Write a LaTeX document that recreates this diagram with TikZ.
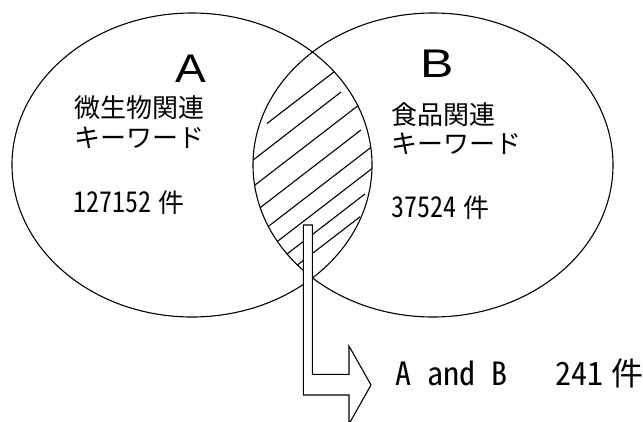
\documentclass[tikz,border=0pt]{standalone}
\usepackage{fontspec}
\usetikzlibrary{shapes.geometric}
\newfontfamily\jp{Noto Sans CJK JP}
\newfontfamily\jph[CharacterWidth=Half]{Noto Sans CJK JP}
\newfontfamily\latinbig{Liberation Sans}
\newcommand\hw{\hspace{0.5em}}
\begin{document}
\begin{tikzpicture}[x=1pt,y=-1pt,line width=1.1pt,
  venn/.style={draw, ellipse, minimum width=360pt, minimum height=304pt, inner sep=0pt},
  lbl/.style={anchor=west, inner sep=0pt, font=\jp\fontsize{26}{30}\selectfont},
  bigletter/.style={inner sep=0pt, font=\latinbig\fontsize{40}{46}\selectfont},
  arrowshape/.style={draw, fill=white, line join=miter}]
\clip (0,0) rectangle (643,421);
% hatching in the lens
\begin{scope}
  \clip (192,165) ellipse [x radius=180, y radius=152];
  \clip (433,165) ellipse [x radius=180, y radius=152];
  \draw (267,123.5) -- (338,68.8);
  \draw (248,164) -- (341,92);
  \draw (248,190.4) -- (362,102.6);
  \draw (252,214) -- (361,130);
  \draw (262,231.3) -- (380,140.4);
  \draw (270,247.1) -- (380,162.4);
  \draw (280,259.4) -- (365,193.95);
  \draw (290,270.7) -- (360,216.8);
\end{scope}
% circles
\node[venn] (cA) at (192,165) {};
\node[venn] (cB) at (433,165) {};
% arrow
\draw[arrowshape] (303.3,225) -- (312.3,225) -- (312.3,374.3) -- (349,374.3)
  -- (349,346) -- (371,385) -- (349,424) -- (349,395) -- (303.3,395) -- cycle;
% labels
\node[bigletter] (A) at (191,69) {\scalebox{1.15}[1]{A}};
\node[bigletter] (B) at (437.5,64) {\scalebox{1.25}[1]{B}};
\node[lbl] (a1) at (74,107.5) {微生物関連};
\node[lbl] (a2) at (74,137.5) {キーワード};
\node[lbl] (a3) at (73,202.5) {\scalebox{1}[1.1]{\jph 127152}\hspace{7pt}件};
\node[lbl] (b1) at (391,115) {食品関連};
\node[lbl] (b2) at (391,144) {キーワード};
\node[lbl] (b3) at (390.5,208) {\scalebox{1}[1.1]{\jph 37524}\hspace{7pt}件};
\node[lbl, font=\jp\fontsize{32}{36}\selectfont] (res) at (394.5,373.5)
  {{\jph A\hw and\hw B\hw\hw\hw 241}\hspace{8.6pt}件};
\end{tikzpicture}
\end{document}
